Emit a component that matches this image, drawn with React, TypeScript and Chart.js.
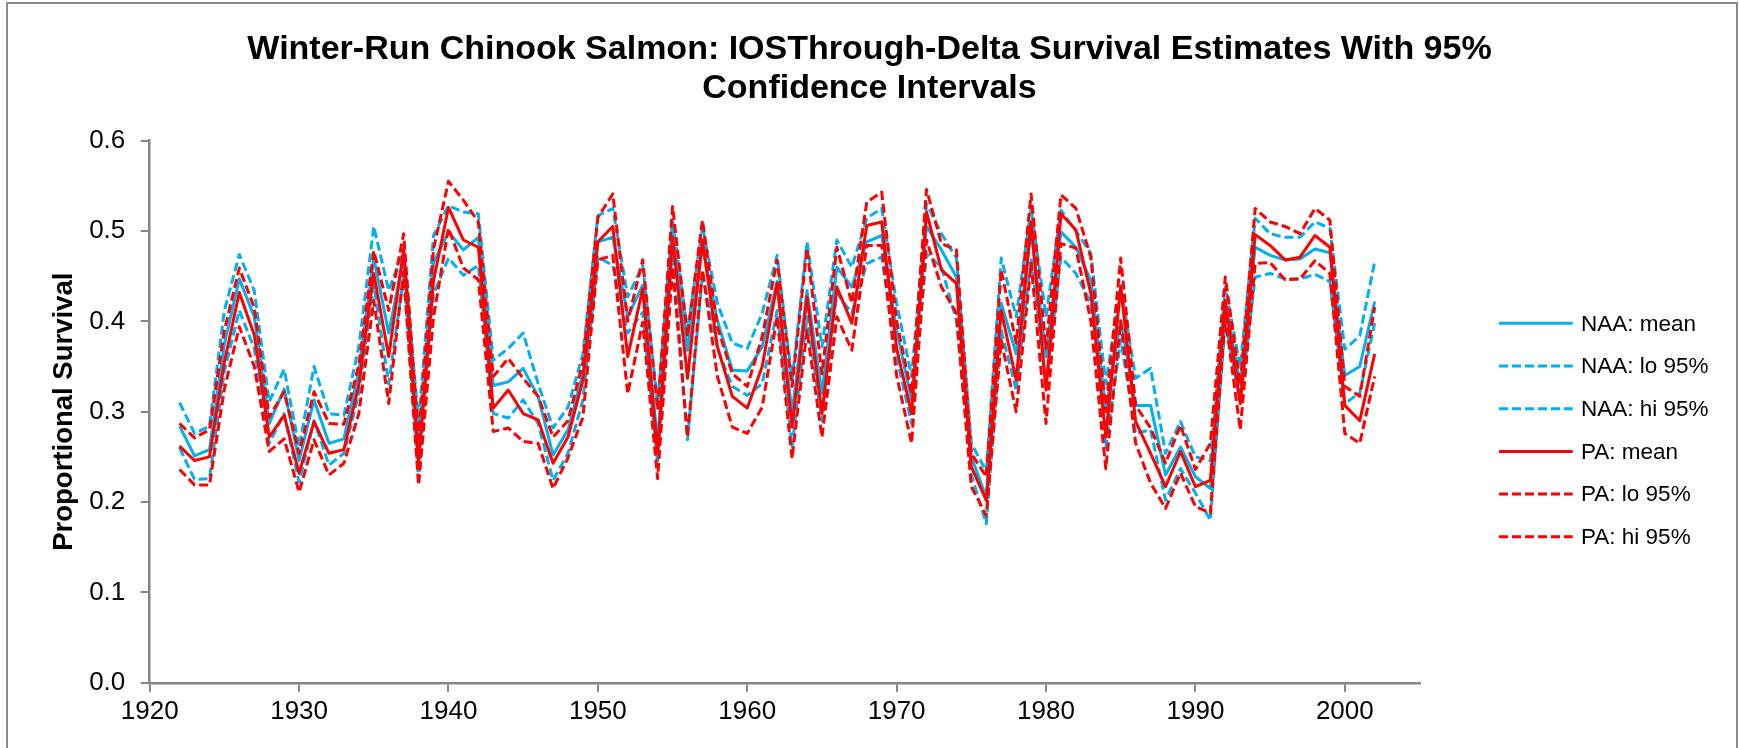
import React, { useEffect, useRef } from "react";
import { Chart, registerables } from "chart.js";

Chart.register(...registerables);

const FONT = '"Liberation Sans", Arial, Helvetica, sans-serif';

const titleLines = [
  "Winter-Run Chinook Salmon: IOSThrough-Delta Survival Estimates With 95%",
  "Confidence Intervals",
];
const yAxisTitle = "Proportional Survival";

const xTickValues = [1920, 1930, 1940, 1950, 1960, 1970, 1980, 1990, 2000];
const yTickValues = [0, 0.1, 0.2, 0.3, 0.4, 0.5, 0.6];

const years = [
  1922, 1923, 1924, 1925, 1926, 1927, 1928, 1929, 1930, 1931,
  1932, 1933, 1934, 1935, 1936, 1937, 1938, 1939, 1940, 1941,
  1942, 1943, 1944, 1945, 1946, 1947, 1948, 1949, 1950, 1951,
  1952, 1953, 1954, 1955, 1956, 1957, 1958, 1959, 1960, 1961,
  1962, 1963, 1964, 1965, 1966, 1967, 1968, 1969, 1970, 1971,
  1972, 1973, 1974, 1975, 1976, 1977, 1978, 1979, 1980, 1981,
  1982, 1983, 1984, 1985, 1986, 1987, 1988, 1989, 1990, 1991,
  1992, 1993, 1994, 1995, 1996, 1997, 1998, 1999, 2000, 2001,
  2002,
];

const naaMean = [
  0.284, 0.251, 0.258, 0.375, 0.447, 0.405, 0.287, 0.325, 0.246, 0.313,
  0.265, 0.270, 0.345, 0.470, 0.387, 0.470, 0.258, 0.465, 0.499, 0.479,
  0.493, 0.329, 0.333, 0.348, 0.317, 0.252, 0.280, 0.342, 0.488, 0.493,
  0.405, 0.440, 0.265, 0.500, 0.368, 0.482, 0.401, 0.346, 0.345, 0.372,
  0.444, 0.298, 0.434, 0.320, 0.460, 0.438, 0.488, 0.495, 0.390, 0.313,
  0.505, 0.479, 0.449, 0.250, 0.205, 0.420, 0.364, 0.500, 0.361, 0.499,
  0.482, 0.445, 0.302, 0.401, 0.307, 0.307, 0.230, 0.261, 0.228, 0.215,
  0.420, 0.330, 0.482, 0.473, 0.468, 0.469, 0.480, 0.476, 0.340, 0.350,
  0.422,
];

const naaLo = [
  0.260, 0.225, 0.226, 0.345, 0.412, 0.370, 0.265, 0.298, 0.222, 0.290,
  0.241, 0.254, 0.320, 0.440, 0.331, 0.450, 0.224, 0.430, 0.470, 0.451,
  0.462, 0.298, 0.293, 0.313, 0.287, 0.224, 0.254, 0.313, 0.471, 0.462,
  0.387, 0.410, 0.243, 0.480, 0.269, 0.453, 0.370, 0.328, 0.318, 0.331,
  0.412, 0.261, 0.405, 0.290, 0.431, 0.409, 0.464, 0.471, 0.360, 0.287,
  0.475, 0.460, 0.401, 0.230, 0.176, 0.390, 0.324, 0.470, 0.330, 0.471,
  0.453, 0.420, 0.260, 0.380, 0.276, 0.280, 0.202, 0.237, 0.210, 0.180,
  0.400, 0.310, 0.449, 0.453, 0.447, 0.447, 0.452, 0.444, 0.309, 0.321,
  0.398,
];

const naaHi = [
  0.310, 0.276, 0.284, 0.412, 0.474, 0.434, 0.311, 0.347, 0.261, 0.350,
  0.298, 0.296, 0.372, 0.505, 0.434, 0.480, 0.287, 0.495, 0.528, 0.521,
  0.519, 0.357, 0.370, 0.387, 0.331, 0.282, 0.305, 0.364, 0.517, 0.525,
  0.427, 0.462, 0.309, 0.512, 0.390, 0.505, 0.420, 0.376, 0.370, 0.409,
  0.473, 0.335, 0.488, 0.372, 0.490, 0.460, 0.514, 0.525, 0.420, 0.339,
  0.530, 0.497, 0.470, 0.265, 0.234, 0.470, 0.405, 0.525, 0.405, 0.523,
  0.500, 0.475, 0.331, 0.440, 0.337, 0.348, 0.254, 0.289, 0.250, 0.246,
  0.438, 0.350, 0.514, 0.497, 0.493, 0.493, 0.510, 0.503, 0.369, 0.384,
  0.466,
];

const paMean = [
  0.262, 0.246, 0.250, 0.355, 0.432, 0.385, 0.272, 0.296, 0.232, 0.289,
  0.254, 0.258, 0.330, 0.453, 0.361, 0.480, 0.243, 0.445, 0.526, 0.490,
  0.482, 0.304, 0.324, 0.298, 0.291, 0.243, 0.272, 0.335, 0.488, 0.505,
  0.361, 0.436, 0.254, 0.493, 0.337, 0.490, 0.372, 0.317, 0.304, 0.350,
  0.442, 0.283, 0.427, 0.298, 0.438, 0.398, 0.506, 0.510, 0.370, 0.298,
  0.521, 0.457, 0.442, 0.239, 0.202, 0.412, 0.335, 0.510, 0.324, 0.519,
  0.501, 0.431, 0.272, 0.438, 0.289, 0.254, 0.217, 0.256, 0.217, 0.224,
  0.423, 0.309, 0.496, 0.484, 0.468, 0.471, 0.495, 0.482, 0.307, 0.290,
  0.364,
];

const paLo = [
  0.236, 0.219, 0.219, 0.325, 0.394, 0.350, 0.256, 0.270, 0.211, 0.269,
  0.230, 0.243, 0.298, 0.423, 0.309, 0.455, 0.219, 0.405, 0.503, 0.459,
  0.446, 0.278, 0.282, 0.267, 0.265, 0.215, 0.249, 0.294, 0.468, 0.473,
  0.320, 0.399, 0.226, 0.460, 0.272, 0.457, 0.339, 0.283, 0.276, 0.305,
  0.405, 0.248, 0.390, 0.272, 0.405, 0.368, 0.484, 0.484, 0.340, 0.265,
  0.490, 0.438, 0.409, 0.217, 0.185, 0.379, 0.300, 0.464, 0.287, 0.486,
  0.481, 0.400, 0.237, 0.400, 0.265, 0.221, 0.193, 0.232, 0.195, 0.188,
  0.405, 0.280, 0.464, 0.465, 0.446, 0.447, 0.467, 0.453, 0.276, 0.265,
  0.339,
];

const paHi = [
  0.287, 0.271, 0.280, 0.390, 0.459, 0.415, 0.294, 0.322, 0.254, 0.322,
  0.287, 0.286, 0.352, 0.478, 0.412, 0.497, 0.270, 0.480, 0.555, 0.534,
  0.510, 0.339, 0.359, 0.337, 0.317, 0.272, 0.290, 0.355, 0.515, 0.541,
  0.400, 0.468, 0.302, 0.527, 0.383, 0.512, 0.394, 0.342, 0.328, 0.383,
  0.468, 0.328, 0.481, 0.342, 0.482, 0.420, 0.532, 0.543, 0.400, 0.320,
  0.546, 0.486, 0.479, 0.254, 0.228, 0.457, 0.376, 0.541, 0.370, 0.540,
  0.525, 0.471, 0.300, 0.470, 0.307, 0.282, 0.243, 0.285, 0.236, 0.265,
  0.449, 0.330, 0.525, 0.510, 0.505, 0.497, 0.525, 0.512, 0.328, 0.317,
  0.416,
];

const seriesLabels = ["NAA: mean", "NAA: lo 95%", "NAA: hi 95%", "PA: mean", "PA: lo 95%", "PA: hi 95%"];
const seriesValues = [naaMean, naaLo, naaHi, paMean, paLo, paHi];
const BLUE = "#00B0F0";
const RED = "#FF0000";
const seriesColors = [BLUE, BLUE, BLUE, RED, RED, RED];
const seriesDashed = [false, true, true, false, true, true];

const W = 1739;
const H = 748;
const AXIS_GRAY = "#868686";

const framePlugin = {
  id: "frameAndLegend",
  beforeDraw(chart: any) {
    const { ctx } = chart;
    ctx.save();
    ctx.fillStyle = "#ffffff";
    ctx.fillRect(0, 0, W, H);
    ctx.strokeStyle = "#8c8c8c";
    ctx.lineWidth = 2;
    ctx.strokeRect(7, 3, 1730, 800);
    ctx.restore();
  },
  afterDraw(chart: any) {
    const { ctx, chartArea } = chart;
    const x1 = chartArea.right + 79.5;
    const x2 = chartArea.right + 153.2;
    const tx = chartArea.right + 161.5;
    const y0 = chartArea.top + 182.7;
    const step = 42.7;
    ctx.save();
    ctx.font = `22.5px ${FONT}`;
    ctx.textBaseline = "middle";
    ctx.textAlign = "left";
    chart.data.datasets.forEach((ds: any, i: number) => {
      const y = y0 + i * step;
      ctx.beginPath();
      ctx.strokeStyle = ds.borderColor;
      ctx.lineWidth = ds.borderWidth;
      ctx.setLineDash(ds.borderDash || []);
      ctx.moveTo(x1, y);
      ctx.lineTo(x2, y);
      ctx.stroke();
      ctx.setLineDash([]);
      ctx.fillStyle = "#000000";
      ctx.fillText(ds.label, tx, y + 1);
    });
    ctx.restore();
  },
};

export default function App() {
  const ref = useRef<HTMLCanvasElement>(null);

  useEffect(() => {
    if (!ref.current) return;
    const datasets = seriesLabels.map((label, k) => ({
      label,
      data: years.map((yr, i) => ({ x: yr, y: seriesValues[k][i] })),
      borderColor: seriesColors[k],
      backgroundColor: seriesColors[k],
      borderWidth: 3,
      borderDash: seriesDashed[k] ? [9, 4] : [],
      borderJoinStyle: "round" as const,
      pointRadius: 0,
      pointHoverRadius: 0,
      tension: 0,
      fill: false,
      order: seriesLabels.length - 1 - k,
    }));

    const chart = new Chart(ref.current, {
      type: "line",
      data: { datasets },
      options: {
        animation: false,
        responsive: false,
        devicePixelRatio: 1,
        events: [],
        layout: { padding: 0 },
        plugins: {
          legend: { display: false },
          tooltip: { enabled: false },
          title: {
            display: true,
            text: titleLines,
            color: "#000000",
            font: { family: FONT, size: 34, weight: "bold", lineHeight: 1.14 },
            padding: { top: 30.5, bottom: 32.6 },
          },
        },
        scales: {
          x: {
            type: "linear",
            min: 1920,
            max: 2005,
            afterBuildTicks: (s: any) => {
              s.ticks = xTickValues.map((v) => ({ value: v }));
            },
            afterFit: (s: any) => {
              s.height = H - 682.8;
            },
            grid: {
              display: true,
              drawOnChartArea: false,
              drawTicks: true,
              tickLength: 9,
              color: AXIS_GRAY,
              lineWidth: 2,
            },
            border: { display: true, color: AXIS_GRAY, width: 2.5 },
            ticks: {
              color: "#000000",
              font: { family: FONT, size: 26 },
              padding: 4,
              maxRotation: 0,
              autoSkip: false,
              callback: (v: any) => String(v),
            },
          },
          y: {
            type: "linear",
            min: 0,
            max: 0.6,
            afterBuildTicks: (s: any) => {
              s.ticks = yTickValues.map((v) => ({ value: v }));
            },
            afterFit: (s: any) => {
              s.width = 149.7;
            },
            grid: {
              display: true,
              drawOnChartArea: false,
              drawTicks: true,
              tickLength: 9,
              color: AXIS_GRAY,
              lineWidth: 2,
            },
            border: { display: true, color: AXIS_GRAY, width: 2.5 },
            ticks: {
              color: "#000000",
              font: { family: FONT, size: 26 },
              padding: 15.4,
              autoSkip: false,
              callback: (v: any) => Number(v).toFixed(1),
            },
            title: {
              display: true,
              text: yAxisTitle,
              color: "#000000",
              font: { family: FONT, size: 27.5, weight: "bold" },
              padding: { top: 47.5, bottom: 0 },
            },
          },
          yRight: {
            type: "linear",
            position: "right",
            display: true,
            grid: { display: false },
            border: { display: false },
            ticks: { display: false },
            afterFit: (s: any) => {
              s.width = W - 1419.5;
            },
          },
        },
      },
      plugins: [framePlugin],
    });
    return () => chart.destroy();
  }, []);

  return (
    <div style={{ position: "absolute", left: 0, top: 0, width: W, height: H, overflow: "hidden" }}>
      <canvas ref={ref} width={W} height={H} style={{ display: "block", width: W, height: H }} />
    </div>
  );
}
